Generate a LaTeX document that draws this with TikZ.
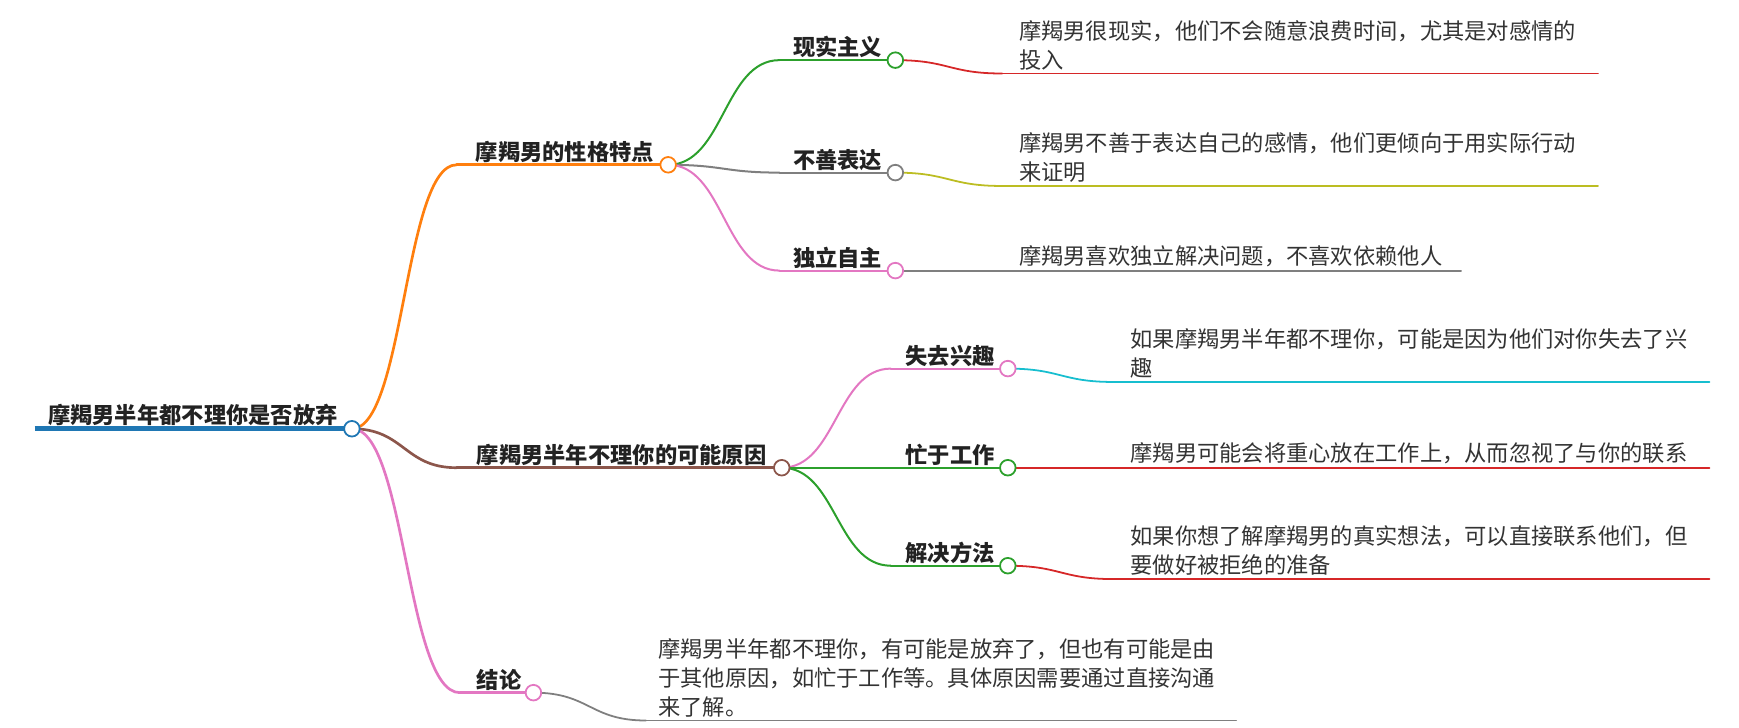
\documentclass[tikz,border=0pt]{standalone}
\usepackage{fontspec}
\setmainfont{Noto Sans CJK SC}
\usetikzlibrary{calc}
\definecolor{cblue}{HTML}{1F77B4}
\definecolor{corange}{HTML}{FF7F0E}
\definecolor{cgreen}{HTML}{2CA02C}
\definecolor{cred}{HTML}{D62728}
\definecolor{cbrown}{HTML}{8C564B}
\definecolor{cpink}{HTML}{E377C2}
\definecolor{cgray}{HTML}{7F7F7F}
\definecolor{colive}{HTML}{BCBD22}
\definecolor{ccyan}{HTML}{17BECF}
\definecolor{ctext}{HTML}{222222}
\definecolor{cdesc}{HTML}{333333}
\newcommand\mmlink[3]{%
  \path ($(#2)!0.5!(#3)$) coordinate (mmtmp);
  \draw[#1] (#2) .. controls (mmtmp |- #2) and (mmtmp |- #3) .. (#3);}
\tikzset{
  lbl/.style={font=\bfseries\fontsize{20}{24}\selectfont, text=ctext, inner sep=0pt, anchor=base west},
  desc/.style={font=\fontsize{20}{26}\selectfont, text=cdesc, inner sep=0pt, anchor=south west, align=left},
  dot/.style={circle, draw, fill=white, line width=1.6pt, minimum size=14pt, inner sep=0pt},
  l1/.style={line width=2.4pt, line cap=round},
  l2/.style={line width=1.8pt, line cap=round},
  l3/.style={line width=1.6pt, line cap=round},
}
\begin{document}
\begin{tikzpicture}[x=1pt,y=-1pt]
\useasboundingbox (0,0) rectangle (1561.6,653.7);
% coordinates
\coordinate (sRoot) at (31,385);   \coordinate (pRoot) at (316,385);
\coordinate (sA) at (410,148);     \coordinate (pA) at (600,148);
\coordinate (sB) at (410,420);     \coordinate (pB) at (702,420);
\coordinate (sC) at (413,622);     \coordinate (pC) at (479,622);
\coordinate (sA1) at (700,54);     \coordinate (pA1) at (804,54);
\coordinate (sA2) at (700,155);    \coordinate (pA2) at (804,155);
\coordinate (sA3) at (700,243);    \coordinate (pA3) at (804,243);
\coordinate (sB1) at (800,331);    \coordinate (pB1) at (905,331);
\coordinate (sB2) at (800,420);    \coordinate (pB2) at (905,420);
\coordinate (sB3) at (800,508);    \coordinate (pB3) at (905,508);
\coordinate (sD1) at (900,66);     \coordinate (eD1) at (1435,66);
\coordinate (sD2) at (900,167);    \coordinate (eD2) at (1435,167);
\coordinate (sD3) at (900,243);    \coordinate (eD3) at (1312,243);
\coordinate (sD4) at (1000,343);   \coordinate (eD4) at (1535,343);
\coordinate (sD5) at (1000,420);   \coordinate (eD5) at (1535,420);
\coordinate (sD6) at (1000,520);   \coordinate (eD6) at (1535,520);
\coordinate (sD7) at (580,647);    \coordinate (eD7) at (1110,647);
% root line
\draw[line width=4.5pt, cblue] (sRoot) -- (pRoot);
% level 1 links and lines
\mmlink{l1, corange}{pRoot}{sA} \draw[l1, corange] (sA) -- (pA);
\mmlink{l1, cbrown}{pRoot}{sB}  \draw[l1, cbrown] (sB) -- (pB);
\mmlink{l1, cpink}{pRoot}{sC}   \draw[l1, cpink] (sC) -- (pC);
% level 2
\mmlink{l2, cgreen}{pA}{sA1} \draw[l2, cgreen] (sA1) -- (pA1);
\mmlink{l2, cgray}{pA}{sA2}  \draw[l2, cgray] (sA2) -- (pA2);
\mmlink{l2, cpink}{pA}{sA3}  \draw[l2, cpink] (sA3) -- (pA3);
\mmlink{l2, cpink}{pB}{sB1}  \draw[l2, cpink] (sB1) -- (pB1);
\mmlink{l2, cgreen}{pB}{sB2} \draw[l2, cgreen] (sB2) -- (pB2);
\mmlink{l2, cgreen}{pB}{sB3} \draw[l2, cgreen] (sB3) -- (pB3);
% level 3
\mmlink{l3, cred}{pA1}{sD1}   \draw[l3, cred] (sD1) -- (eD1);
\mmlink{l3, colive}{pA2}{sD2} \draw[l3, colive] (sD2) -- (eD2);
\mmlink{l3, cgray}{pA3}{sD3}  \draw[l3, cgray] (sD3) -- (eD3);
\mmlink{l3, ccyan}{pB1}{sD4}  \draw[l3, ccyan] (sD4) -- (eD4);
\mmlink{l3, cred}{pB2}{sD5}   \draw[l3, cred] (sD5) -- (eD5);
\mmlink{l3, cred}{pB3}{sD6}   \draw[l3, cred] (sD6) -- (eD6);
\mmlink{l3, cgray}{pC}{sD7}   \draw[l3, cgray] (sD7) -- (eD7);
% circles
\node[dot, draw=cblue] (cRoot) at (pRoot) {};
\node[dot, draw=corange] (cA) at (pA) {};
\node[dot, draw=cbrown] (cB) at (pB) {};
\node[dot, draw=cpink] (cC) at (pC) {};
\node[dot, draw=cgreen] (cA1) at (pA1) {};
\node[dot, draw=cgray] (cA2) at (pA2) {};
\node[dot, draw=cpink] (cA3) at (pA3) {};
\node[dot, draw=cpink] (cB1) at (pB1) {};
\node[dot, draw=cgreen] (cB2) at (pB2) {};
\node[dot, draw=cgreen] (cB3) at (pB3) {};
% labels
\node[lbl] (tRoot) at (43,380) {摩羯男半年都不理你是否放弃};
\node[lbl] (tA) at (427,144) {摩羯男的性格特点};
\node[lbl] (tB) at (428,416) {摩羯男半年不理你的可能原因};
\node[lbl] (tC) at (428,618) {结论};
\node[lbl] (tA1) at (712,50) {现实主义};
\node[lbl] (tA2) at (712,151) {不善表达};
\node[lbl] (tA3) at (712,239) {独立自主};
\node[lbl] (tB1) at (813,327) {失去兴趣};
\node[lbl] (tB2) at (813,416) {忙于工作};
\node[lbl] (tB3) at (813,504) {解决方法};
% descriptions
\node[desc] (tD1) at (915,63) {摩羯男很现实，他们不会随意浪费时间，尤其是对感情的\\投入};
\node[desc] (tD2) at (915,164) {摩羯男不善于表达自己的感情，他们更倾向于用实际行动\\来证明};
\node[desc] (tD3) at (915,240) {摩羯男喜欢独立解决问题，不喜欢依赖他人};
\node[desc] (tD4) at (1015,340) {如果摩羯男半年都不理你，可能是因为他们对你失去了兴\\趣};
\node[desc] (tD5) at (1015,417) {摩羯男可能会将重心放在工作上，从而忽视了与你的联系};
\node[desc] (tD6) at (1015,517) {如果你想了解摩羯男的真实想法，可以直接联系他们，但\\要做好被拒绝的准备};
\node[desc] (tD7) at (591,644) {摩羯男半年都不理你，有可能是放弃了，但也有可能是由\\于其他原因，如忙于工作等。具体原因需要通过直接沟通\\来了解。};
\end{tikzpicture}
\end{document}
